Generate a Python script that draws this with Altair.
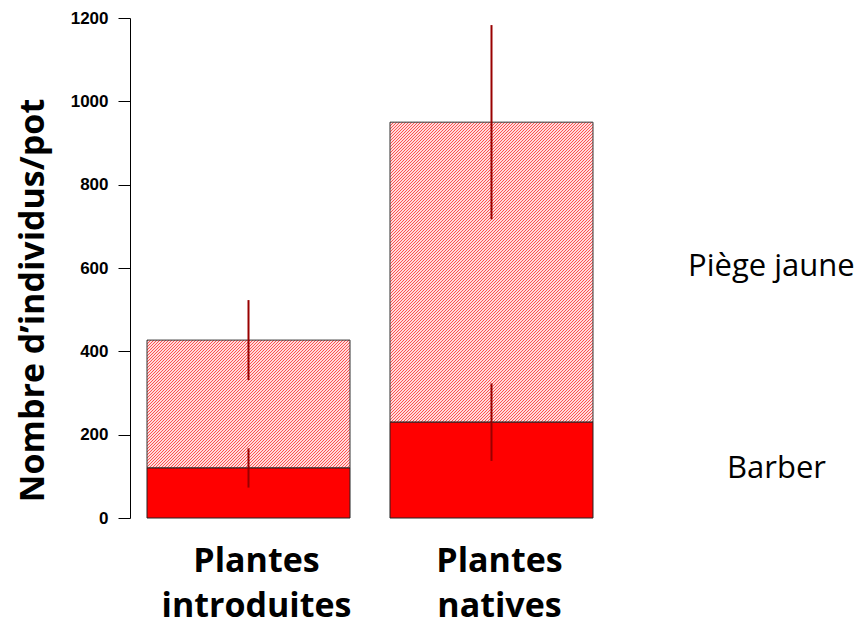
import math
import altair as alt
import pandas as pd

# ---- data ----
categories = ["Plantes introduites", "Plantes natives"]
barber_mean = [120, 230]
barber_err = [47, 93]
jaune_mean = [307, 720]          # piège jaune, stacked above Barber
jaune_err = [96, 233]
legend_labels = ["Piège jaune", "Barber"]
y_ticks = [0, 200, 400, 600, 800, 1000, 1200]

rows = []
for c, bm, be, jm, je in zip(categories, barber_mean, barber_err, jaune_mean, jaune_err):
    top = bm + jm
    rows.append({"cat": c, "barber": bm, "top": top,
                 "b_lo": bm - be, "b_hi": bm + be,
                 "j_lo": top - je, "j_hi": top + je})
df = pd.DataFrame(rows)

W, H = 480, 500
YMAX = 1200
P_IN, P_OUT = 0.1646, 0.07
step = W / (2 - P_IN + 2 * P_OUT)
bw = step * (1 - P_IN)

xenc = alt.X("cat:N", sort=categories,
             scale=alt.Scale(paddingInner=P_IN, paddingOuter=P_OUT),
             axis=alt.Axis(title=None, ticks=False, tickSize=0, domain=False,
                           labelExpr="split(datum.label, ' ')",
                           labelAngle=0, labelAlign="center", labelOffset=8,
                           labelBaseline="alphabetic", labelPadding=53,
                           labelFont="Open Sans", labelFontSize=34,
                           labelFontWeight="bold", labelColor="black",
                           labelLineHeight=45, labelLimit=0))

yscale = alt.Scale(domain=[0, YMAX], nice=False, zero=True)
yaxis = alt.Axis(values=y_ticks, format="d", grid=False, tickSize=12, labelPadding=10,
                 labelFont="Liberation Sans", labelFontSize=17,
                 labelFontWeight="bold", labelColor="black",
                 domainColor="black", tickColor="black",
                 title="Nombre d’individus/pot", titleFont="Open Sans",
                 titleFontSize=34, titleFontWeight="bold", titleColor="black",
                 titleAngle=270, titleX=-97, titleY=282, titleAlign="center",
                 titleBaseline="middle")


def hatch(w, h, period=3, red="#ff5050", light="#ffdcdc"):
    n = math.ceil((w + h) / period)
    k = n * period / (w + h)
    s = k * (w + h) / (w * w + h * h)
    stops = []
    for j in range(n):
        a, b, c = j / n, (j + 0.5) / n, (j + 1) / n
        stops += [alt.GradientStop(offset=a, color=red),
                  alt.GradientStop(offset=b, color=red),
                  alt.GradientStop(offset=b, color=light),
                  alt.GradientStop(offset=c, color=light)]
    return alt.Gradient(gradient="linear", stops=stops,
                        x1=0, y1=0, x2=w * s, y2=h * s)


base = alt.Chart(df)

hatch_layers = []
for i, c in enumerate(categories):
    h_px = jaune_mean[i] * H / YMAX
    hatch_layers.append(
        base.transform_filter(alt.datum.cat == c)
        .mark_bar(color=hatch(bw, h_px), stroke="#333333", strokeWidth=1)
        .encode(x=xenc, y=alt.Y("barber:Q", scale=yscale, axis=yaxis), y2="top:Q")
    )

barber_bar = base.mark_bar(color="#ff0000", stroke="#222222", strokeWidth=1).encode(
    x=xenc, y=alt.Y("barber:Q", scale=yscale, axis=yaxis), y2=alt.datum(0))

err_j = base.mark_rule(color="#990000", strokeWidth=2).encode(
    x=xenc, y=alt.Y("j_lo:Q", scale=yscale, axis=yaxis), y2="j_hi:Q")
err_b = base.mark_rule(color="#990000", strokeWidth=2).encode(
    x=xenc, y=alt.Y("b_lo:Q", scale=yscale, axis=yaxis), y2="b_hi:Q")

leg1 = alt.Chart(pd.DataFrame({"label": [legend_labels[0]]})).mark_text(
    font="Open Sans", fontSize=31, align="left", baseline="alphabetic", color="black"
).encode(text="label:N", x=alt.value(558), y=alt.value(258))
leg2 = alt.Chart(pd.DataFrame({"label": [legend_labels[1]]})).mark_text(
    font="Open Sans", fontSize=31, align="left", baseline="alphabetic", color="black"
).encode(text="label:N", x=alt.value(597), y=alt.value(460))

chart = alt.layer(*hatch_layers, barber_bar, err_j, err_b, leg1, leg2).properties(
    width=W, height=H,
    autosize=alt.AutoSizeParams(type="none"),
    padding={"left": 122, "top": 10, "right": 244, "bottom": 108},
).configure(background="white").configure_view(stroke=None)

chart.save("out.html", embed_options={"renderer": "svg", "actions": False})
